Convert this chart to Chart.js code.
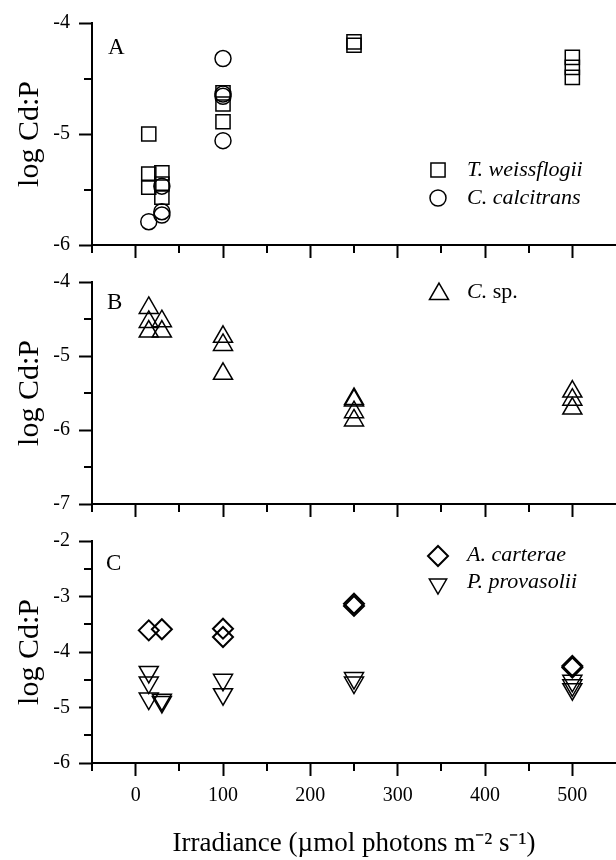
<!DOCTYPE html>
<html><head><meta charset="utf-8">
<script src="https://cdn.jsdelivr.net/npm/chart.js@4.4.0/dist/chart.umd.min.js"></script>
<style>
html,body{margin:0;padding:0;background:#fff;}
#wrap{position:relative;width:616px;height:860px;overflow:hidden;background:#fff;}
canvas{position:absolute;left:0;display:block;}
</style></head><body>
<div id="wrap">
<canvas id="cA" width="616" height="262" style="top:0px"></canvas>
<canvas id="cB" width="616" height="259" style="top:262px"></canvas>
<canvas id="cC" width="616" height="339" style="top:521px"></canvas>
</div>
<script>
// ---------- data ----------
const xTickLabels = [0, 100, 200, 300, 400, 500];
const yTickLabelsA = [-6, -5, -4];
const yTickLabelsB = [-7, -6, -5, -4];
const yTickLabelsC = [-6, -5, -4, -3, -2];

// Panel A
const weissflogiiX = [15, 15, 15, 30, 30, 30, 100, 100, 100, 250, 250, 500, 500, 500];
const weissflogiiY = [-5.00, -5.36, -5.48, -5.35, -5.45, -5.57, -4.63, -4.73, -4.89, -4.17, -4.20, -4.31, -4.40, -4.49];
const calcitransX = [15, 30, 30, 30, 100, 100, 100, 100];
const calcitransY = [-5.79, -5.47, -5.70, -5.73, -4.32, -4.64, -4.66, -5.06];
// Panel B
const cspX = [15, 15, 15, 30, 30, 100, 100, 100, 250, 250, 250, 250, 500, 500, 500];
const cspY = [-4.35, -4.54, -4.67, -4.53, -4.67, -4.74, -4.85, -5.24, -5.58, -5.60, -5.76, -5.87, -5.48, -5.59, -5.71];
// Panel C
const carteraeX = [15, 30, 100, 100, 250, 250, 500, 500];
const carteraeY = [-3.61, -3.59, -3.58, -3.73, -3.13, -3.17, -4.25, -4.28];
const provasoliiX = [15, 15, 15, 30, 30, 100, 100, 250, 250, 500, 500, 500];
const provasoliiY = [-4.36, -4.55, -4.84, -4.86, -4.90, -4.50, -4.76, -4.47, -4.55, -4.52, -4.60, -4.67];

// ---------- helpers ----------
const SERIF = "'Liberation Serif', 'Times New Roman', serif";
const pts = (xs, ys) => xs.map((x, i) => ({x: x, y: ys[i]}));
const isMajorX = v => v != null && Math.abs(v % 100) < 1e-6 && v >= 0 && v <= 500;
const isMajorY = v => v != null && Math.abs(v - Math.round(v)) < 1e-6;

function ds(label, xs, ys, style, radius, rotation, bw) {
  return {label: label, data: pts(xs, ys), pointStyle: style, pointRadius: radius,
    pointRotation: rotation, pointBorderColor: '#000', pointBackgroundColor: 'rgba(0,0,0,0)',
    pointBorderWidth: bw, showLine: false};
}

function drawMarker(ctx, style, r, rot, bw, x, y) {
  ctx.save();
  ctx.strokeStyle = '#000';
  ctx.fillStyle = 'rgba(0,0,0,0)';
  ctx.lineWidth = bw;
  Chart.helpers.drawPoint(ctx, {pointStyle: style, radius: r, rotation: rot, borderWidth: bw}, x, y);
  ctx.restore();
}

const minorTicks = {
  id: 'minorTicks',
  afterDraw(chart) {
    const ctx = chart.ctx, ca = chart.chartArea, xs = chart.scales.x, ys = chart.scales.y;
    ctx.save();
    ctx.strokeStyle = '#000';
    ctx.lineWidth = 2;
    xs.ticks.forEach(t => {
      if (!isMajorX(t.value) && t.value < xs.max) {
        const p = Math.round(xs.getPixelForValue(t.value));
        ctx.beginPath(); ctx.moveTo(p, ca.bottom); ctx.lineTo(p, ca.bottom + 8); ctx.stroke();
      }
    });
    ys.ticks.forEach(t => {
      if (!isMajorY(t.value)) {
        const p = Math.round(ys.getPixelForValue(t.value));
        ctx.beginPath(); ctx.moveTo(ca.left, p); ctx.lineTo(ca.left - 8, p); ctx.stroke();
      }
    });
    ctx.restore();
  }
};

function decor(letter, letterPos, legend) {
  return {
    id: 'decor',
    afterDatasetsDraw(chart) {
      const ctx = chart.ctx;
      ctx.save();
      ctx.fillStyle = '#000';
      ctx.textBaseline = 'alphabetic';
      ctx.textAlign = 'left';
      ctx.font = "23px " + SERIF;
      ctx.fillText(letter, letterPos[0], letterPos[1]);
      legend.forEach(item => {
        drawMarker(ctx, item.style, item.r, item.rot, item.bw, item.mx, item.my);
        ctx.textBaseline = 'middle';
        let x = item.tx;
        item.parts.forEach(p => {
          ctx.font = (p.italic ? 'italic ' : '') + '22px ' + SERIF;
          ctx.fillText(p.t, x, item.ty);
          x += ctx.measureText(p.t).width;
        });
      });
      ctx.restore();
    }
  };
}

function makePanel(id, cfg) {
  const yTitle = {display: true, text: 'log Cd:P', color: '#000',
    font: {family: SERIF, size: 30, lineHeight: 1}, padding: {top: 15, bottom: 0}};
  const xTitle = cfg.xTitle ? {display: true, text: 'Irradiance (\u00b5mol photons m\u207b\u00b2 s\u207b\u00b9)', color: '#000',
    font: {family: SERIF, size: 27, lineHeight: 1}, padding: {top: 0, bottom: 3}} : {display: false};
  return new Chart(document.getElementById(id), {
    type: 'scatter',
    data: {datasets: cfg.datasets},
    options: {
      responsive: false, animation: false, events: [],
      layout: {autoPadding: false, padding: {top: cfg.padTop, left: 0, right: 0, bottom: 0}},
      plugins: {legend: {display: false}, tooltip: {enabled: false}, title: {display: false}},
      scales: {
        x: {
          type: 'linear', min: -50, max: 550,
          ticks: {display: cfg.xLabels, stepSize: 50, autoSkip: false, maxRotation: 0, padding: 8, color: '#000',
            font: {family: SERIF, size: 20, lineHeight: 1.2},
            callback: v => xTickLabels.includes(v) ? String(v) : ''},
          grid: {display: true, drawOnChartArea: false, drawTicks: true, tickLength: 13, tickWidth: 2,
            tickColor: c => (c.tick && isMajorX(c.tick.value)) ? '#000' : 'rgba(0,0,0,0)'},
          border: {display: true, color: '#000', width: 2},
          title: xTitle,
          afterFit: s => { s.height = cfg.xHeight; s.paddingLeft = 0; s.paddingRight = 0; }
        },
        y: {
          type: 'linear', min: cfg.yMin, max: cfg.yMax,
          ticks: {stepSize: 0.5, autoSkip: false, padding: 9, color: '#000',
            font: {family: SERIF, size: 20},
            callback: v => cfg.yLabels.includes(v) ? String(v) : ''},
          grid: {display: true, drawOnChartArea: false, drawTicks: true, tickLength: 13, tickWidth: 2,
            tickColor: c => (c.tick && isMajorY(c.tick.value)) ? '#000' : 'rgba(0,0,0,0)'},
          border: {display: true, color: '#000', width: 2},
          title: yTitle,
          afterFit: s => { s.width = 92; s.paddingTop = 0; s.paddingBottom = 0; }
        }
      }
    },
    plugins: [minorTicks, decor(cfg.letter, cfg.letterPos, cfg.legend)]
  });
}

makePanel('cA', {
  padTop: 23, xHeight: 17, xLabels: false, yMin: -6, yMax: -4, yLabels: yTickLabelsA,
  letter: 'A', letterPos: [108, 54],
  datasets: [
    ds('T. weissflogii', weissflogiiX, weissflogiiY, 'rect', 10, 0, 1.5),
    ds('C. calcitrans', calcitransX, calcitransY, 'circle', 8, 0, 1.5)
  ],
  legend: [
    {style: 'rect', r: 10, rot: 0, bw: 1.5, mx: 438, my: 170, tx: 467, ty: 170, parts: [{t: 'T. weissflogii', italic: true}]},
    {style: 'circle', r: 8, rot: 0, bw: 1.5, mx: 438, my: 198, tx: 467, ty: 198, parts: [{t: 'C. calcitrans', italic: true}]}
  ]
});

makePanel('cB', {
  padTop: 20, xHeight: 17, xLabels: false, yMin: -7, yMax: -4, yLabels: yTickLabelsB,
  letter: 'B', letterPos: [107, 47],
  datasets: [
    ds('C. sp.', cspX, cspY, 'triangle', 11, 0, 1.5)
  ],
  legend: [
    {style: 'triangle', r: 11, rot: 0, bw: 1.5, mx: 439, my: 32, tx: 467, ty: 30, parts: [{t: 'C.', italic: true}, {t: ' sp.', italic: false}]}
  ]
});

makePanel('cC', {
  padTop: 20, xHeight: 97, xLabels: true, xTitle: true, yMin: -6, yMax: -2, yLabels: yTickLabelsC,
  letter: 'C', letterPos: [106, 49],
  datasets: [
    ds('A. carterae', carteraeX, carteraeY, 'rectRot', 10, 0, 2),
    ds('P. provasolii', provasoliiX, provasoliiY, 'triangle', 11, 180, 1.5)
  ],
  legend: [
    {style: 'rectRot', r: 10, rot: 0, bw: 2, mx: 438, my: 35, tx: 467, ty: 34, parts: [{t: 'A. carterae', italic: true}]},
    {style: 'triangle', r: 10, rot: 180, bw: 1.5, mx: 438, my: 63, tx: 467, ty: 61, parts: [{t: 'P. provasolii', italic: true}]}
  ]
});
</script>
</body></html>
